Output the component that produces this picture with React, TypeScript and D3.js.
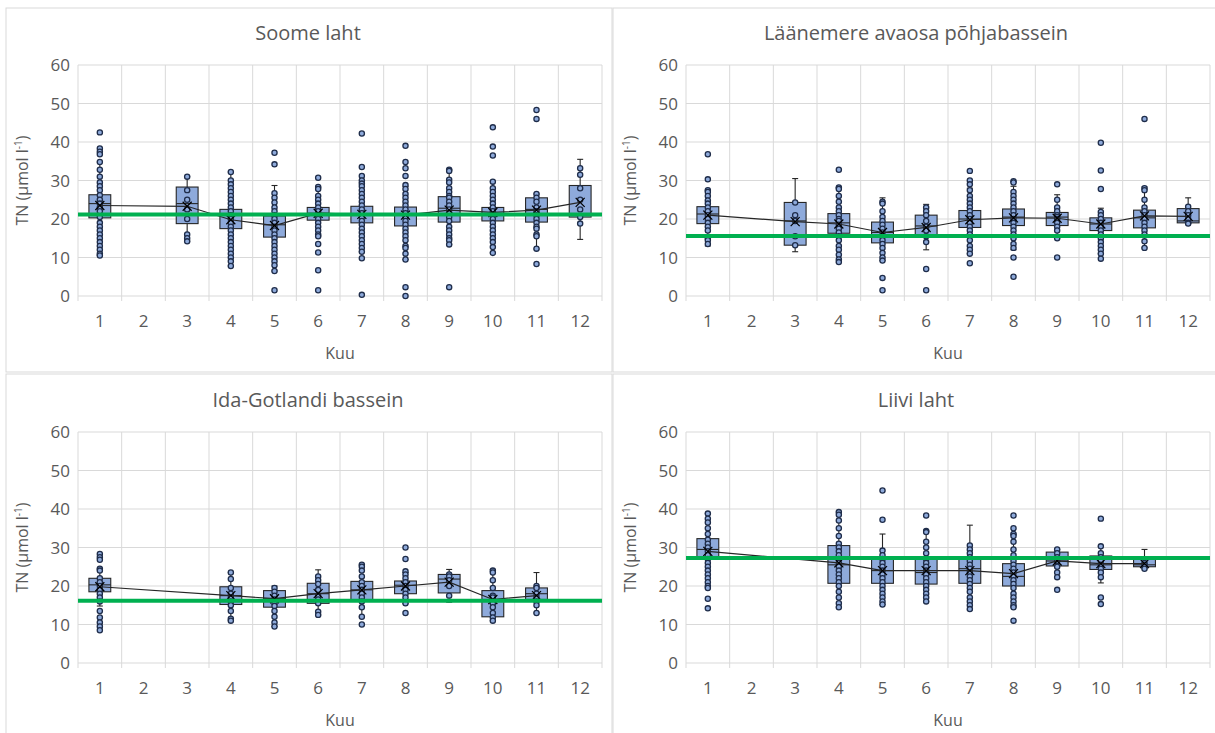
import React from 'react';
import * as d3 from 'd3';

// month, whisker low, q1, median, q3, whisker high, mean
type Stat = [number, number, number, number, number, number, number];

const months = [1, 2, 3, 4, 5, 6, 7, 8, 9, 10, 11, 12];
const yTicks = [0, 10, 20, 30, 40, 50, 60];

const soomeStats: Stat[] = [
  [1, 10.5, 20.3, 24, 26.3, 34.8, 23.5],
  [3, 14.2, 18.8, 24, 28.3, 31, 23.3],
  [4, 7.8, 17.5, 21, 22.5, 32.2, 19.8],
  [5, 6.5, 15.3, 18.5, 20.8, 28.7, 18.3],
  [6, 15.5, 19.7, 21.5, 23, 28.3, 21.5],
  [7, 11.5, 19, 21, 23.3, 29.5, 21.2],
  [8, 9.5, 18.2, 21, 23.1, 28.5, 21],
  [9, 13.4, 19.2, 22.8, 25.8, 32.8, 22.3],
  [10, 11.2, 19.5, 21.3, 23, 29.7, 21.7],
  [11, 12.2, 19.2, 22.5, 25.5, 26.5, 22.3],
  [12, 14.7, 20.5, 21, 28.7, 35.5, 24.3],
];
const soomePoints: Record<number, number[]> = {
  1: [42.5, 38.3, 37.5, 36.8, 34.8, 32.8, 31, 29.5, 28.5, 27.5, 26.2, 25, 24, 23, 22, 20.5, 19, 18, 17, 16, 15, 14, 13, 12, 11, 10.5],
  3: [31, 27.5, 25, 22.5, 20, 16, 15, 14.2],
  4: [32.2, 30, 29, 28, 27, 26, 25, 24, 23, 22, 21, 20, 19, 18, 17, 16, 15, 14, 13, 12, 11, 10, 9, 7.8],
  5: [37.2, 34.2, 26.7, 25.5, 24.3, 23, 22, 21, 20, 19, 18, 17, 16, 15, 14, 13, 12, 11, 10, 9, 8, 6.5, 1.5],
  6: [30.7, 28.3, 27.8, 26, 25, 24, 23, 22, 21, 20, 19, 18, 17, 16, 15.5, 13.5, 11.3, 6.7, 1.5],
  7: [42.2, 33.5, 31.2, 30, 29.2, 28.5, 27.5, 26.5, 25.5, 24.5, 23.5, 22.5, 21.5, 20.5, 19.5, 18.5, 17.5, 16.5, 15.5, 14.5, 13.5, 12.5, 11.5, 9.8, 0.3],
  8: [39, 34.8, 33.2, 31.2, 28.8, 27.8, 26.5, 25.5, 24.5, 23.5, 22.5, 21.5, 20.5, 19.5, 18.5, 17.5, 16.5, 15.5, 14.5, 13, 12.5, 11, 9.5, 2.3, 0],
  9: [32.8, 32.5, 30.2, 29.5, 28, 27, 26, 25.5, 24.5, 23.5, 22.5, 21.5, 20.5, 19.5, 18, 17, 16, 15, 14.5, 13.4, 2.3],
  10: [43.8, 38.8, 36.5, 29.7, 28, 27, 26, 25, 24, 23, 22, 21, 20, 19, 18, 17, 16, 15, 14, 12.7, 11.2],
  11: [48.3, 46, 26.5, 25.5, 24.5, 23, 22, 21, 20, 19, 18, 17.5, 16, 15.5, 12.3, 8.3],
  12: [33.2, 31.5, 28, 25, 22.5, 20.5, 18.8],
};

const avaosaStats: Stat[] = [
  [1, 13, 18.8, 21.3, 23.2, 27.5, 21],
  [3, 11.5, 13.2, 19.5, 24.3, 30.5, 19.3],
  [4, 8.8, 16.3, 19, 21.4, 28.2, 18.7],
  [5, 9.2, 13.8, 16.5, 19.2, 25.5, 16.5],
  [6, 12, 15.8, 18.2, 21, 23.8, 17.8],
  [7, 11, 17.8, 20, 22.2, 28, 19.8],
  [8, 12, 18.3, 20.5, 22.6, 28.5, 20.3],
  [9, 15, 18.3, 20.5, 21.7, 26.3, 20.2],
  [10, 11, 17, 18.7, 20.3, 22.8, 18.7],
  [11, 12.5, 17.7, 20.3, 22.3, 28.3, 20.8],
  [12, 18.8, 19, 19.5, 22.7, 25.5, 20.7],
];
const avaosaPoints: Record<number, number[]> = {
  1: [36.8, 30.3, 27.5, 27, 26, 24.8, 24, 23, 22, 21, 20, 19, 18, 17, 15, 14.5, 13.5],
  3: [24.3, 21, 19.5, 15.5, 13.2],
  4: [32.8, 28.2, 27.8, 26, 24.5, 23, 22, 21, 20, 19.5, 18.5, 17.5, 16.5, 15.5, 14.5, 13, 12, 10.7, 9.5, 8.8],
  5: [24.5, 24, 22, 20.5, 19.5, 18.5, 17.5, 16.5, 15.5, 14.5, 13.5, 12.5, 11.2, 10, 9.2, 4.7, 1.5],
  6: [23, 22, 21, 19.5, 18, 17, 15.5, 14, 7, 1.5],
  7: [32.5, 30, 29, 27.5, 26, 25, 24, 23, 22, 21, 20, 19, 18, 17, 16, 14.5, 13, 12, 11, 8.5],
  8: [29.8, 29.5, 27, 26, 25, 24, 23, 22, 21, 20, 19, 18, 17, 16, 15, 13.5, 12.5, 10, 5],
  9: [29, 25, 23, 22, 21, 20.5, 20, 19, 18, 17, 15, 10],
  10: [39.8, 32.6, 27.8, 21.8, 21, 20, 19, 18, 17, 16, 15, 14, 13, 12, 11, 9.7],
  11: [46, 28, 27.5, 25, 23, 22, 21, 20, 19, 18, 17, 16, 14.2, 12.5],
  12: [23.2, 22, 21, 20, 19, 18.8],
};

const gotlandStats: Stat[] = [
  [1, 14.8, 18.5, 20.3, 22, 24.5, 19.8],
  [4, 11, 15.2, 17.5, 19.8, 23.5, 17.5],
  [5, 9.5, 14.5, 16.7, 18.8, 20, 16.7],
  [6, 12.5, 15.5, 18, 20.7, 24.2, 18],
  [7, 12, 16.3, 19, 21.2, 25.5, 19],
  [8, 15.5, 18, 20.2, 21.3, 23.5, 20],
  [9, 15.8, 18.2, 21.8, 23, 24.3, 21],
  [10, 11, 12, 16.5, 18.8, 24.3, 16.5],
  [11, 13, 16.5, 18, 19.5, 23.5, 17.5],
];
const gotlandPoints: Record<number, number[]> = {
  1: [28.3, 27.5, 26.8, 24.5, 24, 22, 21, 20, 19, 18, 17, 16, 13.5, 11.8, 10.5, 9.5, 8.5],
  4: [23.5, 21.8, 19.5, 18, 17, 16, 15, 13.5, 11.5, 11],
  5: [19.5, 18.5, 17.5, 16.5, 15.5, 14.8, 13.5, 12, 10.5, 9.5],
  6: [22.5, 21.5, 20.5, 19, 17.5, 16.5, 15.5, 13.3, 12.5],
  7: [25.5, 25, 24, 22.5, 21, 20, 19, 18, 17, 16, 14.5, 12, 10],
  8: [30, 27, 23.8, 23, 22, 21, 20, 19, 18, 17, 15.5, 13],
  9: [23, 22.5, 21.5, 20, 17.5],
  10: [24, 23.5, 21.5, 19.5, 17.5, 17, 15.5, 14.5, 13, 11.8, 11],
  11: [20, 19.5, 18, 17, 16, 15, 13],
};

const liiviStats: Stat[] = [
  [1, 19.5, 27, 29.5, 32.3, 38.8, 29],
  [4, 14.5, 20.7, 25.5, 30.5, 39.2, 26],
  [5, 15.2, 20.7, 24, 27, 33.5, 24],
  [6, 16, 20.5, 23.5, 27, 34.3, 24],
  [7, 13.8, 20.7, 24.5, 27, 35.8, 24],
  [8, 14.5, 20, 22.5, 25.8, 33.5, 23.2],
  [9, 22.3, 25.2, 26.5, 28.8, 29.5, 26.5],
  [10, 20.8, 24.3, 25.5, 27.8, 30.3, 25.8],
  [11, 24.5, 25, 25.5, 27.3, 29.5, 25.8],
];
const liiviPoints: Record<number, number[]> = {
  1: [38.8, 37.5, 36.5, 35, 33.5, 32, 31, 30, 29, 28, 27, 26, 25, 24, 23, 22, 21, 20, 19.5, 16.7, 14.2],
  4: [39.2, 38.5, 37, 35, 33, 31, 30, 29, 28, 27, 26, 25, 24, 23, 22, 21, 20, 18.5, 17, 15.5, 14.5],
  5: [44.8, 37.2, 29.2, 28, 27, 26, 25, 24, 23, 22, 21, 20, 19, 18, 17, 16, 15.2],
  6: [38.3, 34.3, 34, 31.5, 30, 28.5, 27, 26, 25, 24, 23, 22, 21, 20, 19, 18, 17, 16],
  7: [30.5, 29.5, 28.5, 27.5, 26.5, 25.5, 24.5, 23.5, 22.5, 21.5, 20.5, 19.5, 18.5, 17, 16, 15, 14],
  8: [38.3, 35, 33.5, 33, 31.5, 29.5, 28, 26.5, 25.5, 24.5, 23.5, 22.5, 21.5, 20.5, 19.5, 18, 17, 16, 15, 14.5, 11],
  9: [29.5, 28.5, 27.5, 26.5, 25, 23.5, 22.3, 19],
  10: [37.5, 30.3, 28.5, 27.5, 26.5, 25.5, 24.5, 23.5, 22.3, 17, 15.3],
  11: [26, 25.5, 25, 24.5],
};

const panels = [
  { title: 'Soome laht', stats: soomeStats, points: soomePoints, refLine: 21.2, x: 0, y: 0 },
  { title: 'Läänemere avaosa põhjabassein', stats: avaosaStats, points: avaosaPoints, refLine: 15.6, x: 608, y: 0 },
  { title: 'Ida-Gotlandi bassein', stats: gotlandStats, points: gotlandPoints, refLine: 16.2, x: 0, y: 367 },
  { title: 'Liivi laht', stats: liiviStats, points: liiviPoints, refLine: 27.3, x: 608, y: 367 },
];

const FONT = '"Open Sans", sans-serif';
const TEXT = '#595959';
const GRID = '#d9d9d9';
const BOX = '#8eaadb';
const DARK = '#262626';

function Panel({ p }: { p: (typeof panels)[number] }) {
  const left = 78, right = 602, top = 65, bottom = 296;
  const x = d3.scaleBand<number>().domain(months).range([left, right]);
  const y = d3.scaleLinear().domain([0, 60]).range([bottom, top]);
  const bw = x.bandwidth();
  const cx = (m: number) => (x(m) as number) + bw / 2;
  const boxW = bw * 0.5;
  const capW = 6;
  const meanLine = d3
    .line<Stat>()
    .x((d) => cx(d[0]))
    .y((d) => y(d[6]))(p.stats);

  return (
    <g transform={`translate(${p.x},${p.y})`}>
      <text x={308} y={40} textAnchor="middle" fontSize={20} fill={TEXT} fontFamily={FONT}>
        {p.title}
      </text>
      {yTicks.map((t) => (
        <g key={t}>
          <line x1={left} x2={right} y1={y(t)} y2={y(t)} stroke={GRID} />
          <text x={70} y={y(t) + 6} textAnchor="end" fontSize={17} fill={TEXT} fontFamily={FONT}>
            {t}
          </text>
        </g>
      ))}
      {[...months.map((m) => x(m) as number), right].map((gx, i) => (
        <line key={i} x1={gx} x2={gx} y1={top} y2={bottom + 5} stroke={GRID} />
      ))}
      {months.map((m) => (
        <text key={m} x={cx(m)} y={327} textAnchor="middle" fontSize={17} fill={TEXT} fontFamily={FONT}>
          {m}
        </text>
      ))}
      <text x={(left + right) / 2} y={359} textAnchor="middle" fontSize={16} fill={TEXT} fontFamily={FONT}>
        Kuu
      </text>
      <text
        transform={`translate(28,${(top + bottom) / 2}) rotate(-90)`}
        textAnchor="middle"
        fontSize={16}
        fill={TEXT}
        fontFamily={FONT}
      >
        TN (µmol l<tspan dy={-6} fontSize={10}>-1</tspan>
        <tspan dy={6}>)</tspan>
      </text>
      {p.stats.map((s) => {
        const [m, lo, q1, med, q3, hi] = s;
        const c = cx(m);
        return (
          <g key={m} stroke={DARK} strokeWidth={1.1}>
            <line x1={c} x2={c} y1={y(q3)} y2={y(hi)} />
            <line x1={c} x2={c} y1={y(q1)} y2={y(lo)} />
            <line x1={c - capW / 2} x2={c + capW / 2} y1={y(hi)} y2={y(hi)} />
            <line x1={c - capW / 2} x2={c + capW / 2} y1={y(lo)} y2={y(lo)} />
            <rect x={c - boxW / 2} y={y(q3)} width={boxW} height={y(q1) - y(q3)} fill={BOX} />
            <line x1={c - boxW / 2} x2={c + boxW / 2} y1={y(med)} y2={y(med)} />
          </g>
        );
      })}
      {p.stats.map((s) =>
        (p.points[s[0]] || []).map((v, i) => (
          <circle key={`${s[0]}-${i}`} cx={cx(s[0])} cy={y(v)} r={2.6} fill={BOX} stroke="#1f2d4a" strokeWidth={1.3} />
        ))
      )}
      <path d={meanLine || ''} fill="none" stroke={DARK} strokeWidth={1.2} />
      {p.stats.map((s) => {
        const c = cx(s[0]);
        const my = y(s[6]);
        return (
          <path key={s[0]} d={`M${c - 4.5},${my - 4.5}L${c + 4.5},${my + 4.5}M${c - 4.5},${my + 4.5}L${c + 4.5},${my - 4.5}`} stroke="#000" strokeWidth={1.2} />
        );
      })}
      <line x1={left} x2={right} y1={y(p.refLine)} y2={y(p.refLine)} stroke="#00b050" strokeWidth={4} />
    </g>
  );
}

export default function App() {
  return (
    <svg width={1215} height={733} style={{ position: 'absolute', left: 0, top: 0, background: '#fff' }}>
      <rect x={6} y={8} width={606} height={364} fill="none" stroke={GRID} />
      <rect x={613} y={8} width={606} height={364} fill="none" stroke={GRID} />
      <rect x={6} y={374} width={606} height={364} fill="none" stroke={GRID} />
      <rect x={613} y={374} width={606} height={364} fill="none" stroke={GRID} />
      {panels.map((p) => (
        <Panel key={p.title} p={p} />
      ))}
    </svg>
  );
}
